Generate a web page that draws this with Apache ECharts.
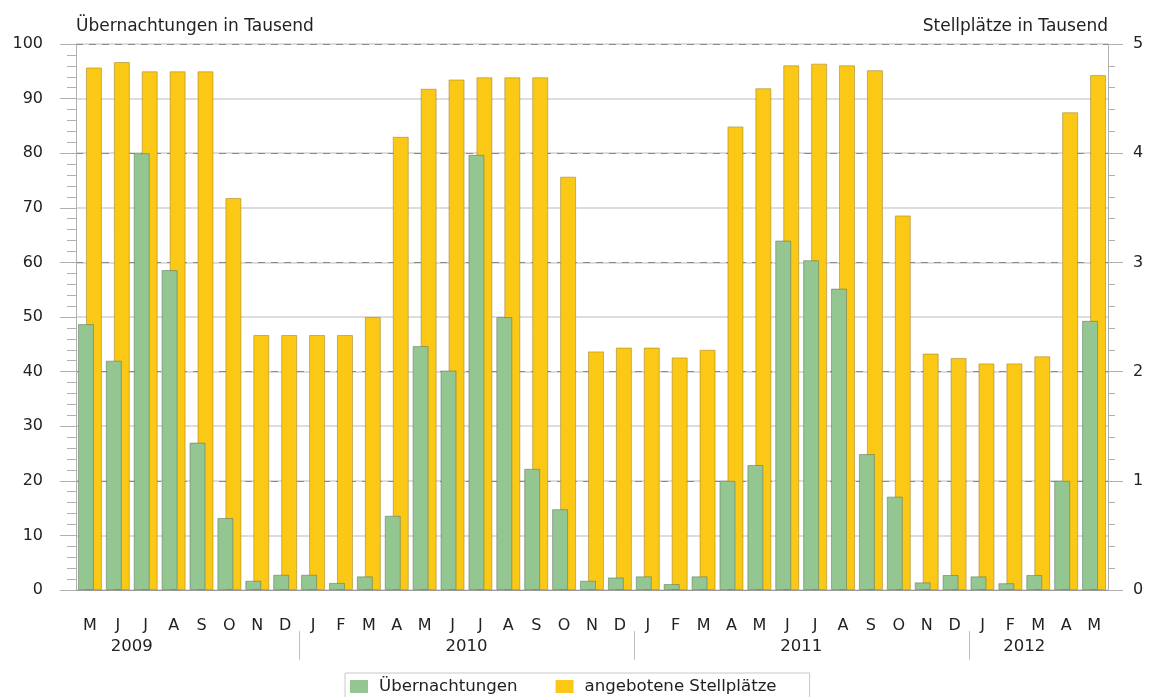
<!DOCTYPE html>
<html>
<head>
<meta charset="utf-8">
<script src="https://cdn.jsdelivr.net/npm/echarts@6/dist/echarts.min.js"></script>
<style>
html,body{margin:0;padding:0;background:#fff;}
#c{width:1153px;height:697px;}
</style>
</head>
<body>
<div id="c"></div>
<script>
const months = ['M','J','J','A','S','O','N','D',
  'J','F','M','A','M','J','J','A','S','O','N','D',
  'J','F','M','A','M','J','J','A','S','O','N','D',
  'J','F','M','A','M'];
const overnightStays = [48.7,42.0,80.0,58.6,27.0,13.2,1.7,2.8,
  2.8,1.3,2.5,13.6,44.7,40.2,79.7,50.0,22.2,14.8,1.7,2.3,
  2.5,1.1,2.5,20.0,22.9,64.0,60.4,55.2,24.9,17.1,1.4,2.75,
  2.5,1.25,2.75,20.0,49.3];
const pitches = [4.785,4.835,4.75,4.75,4.75,3.59,2.335,2.335,
  2.335,2.335,2.5,4.15,4.59,4.675,4.695,4.695,4.695,3.785,2.185,2.22,
  2.22,2.13,2.2,4.245,4.595,4.805,4.82,4.805,4.76,3.43,2.165,2.125,
  2.075,2.075,2.14,4.375,4.715];
const leftTicks = [0,10,20,30,40,50,60,70,80,90,100];
const rightTicks = [0,1,2,3,4,5];
const years = ['2009','2010','2011','2012'];
const yearLabelPos = [1.5, 13.5, 25.5, 33.5];
const yearBreaks = [7.5, 19.5, 31.5];
const seriesNames = ['Übernachtungen','angebotene Stellplätze'];
const titles = ['Übernachtungen in Tausend','Stellplätze in Tausend'];

const FONT = '"DejaVu Sans", Verdana, sans-serif';
const FS = 16;
const chart = echarts.init(document.getElementById('c'));
chart.setOption({
  animation:false,
  backgroundColor:'#fff',
  textStyle:{fontFamily:FONT},
  title:[
    {text:titles[0], left:71, top:13, textStyle:{fontSize:17, fontWeight:'normal', color:'#222', fontFamily:FONT}},
    {text:titles[1], right:40, top:13, textStyle:{fontSize:17, fontWeight:'normal', color:'#222', fontFamily:FONT}}
  ],
  grid:{left:76, right:45, top:44, bottom:107, containLabel:false},
  legend:{
    left:345, top:673, icon:'rect', itemWidth:18, itemHeight:13, itemGap:38,
    borderColor:'#c8c8c8', borderWidth:1, padding:[5,33,12,5],
    textStyle:{fontSize:16.6, color:'#222', fontFamily:FONT, padding:[0,0,0,6]},
    itemStyle:{borderWidth:0},
    data:seriesNames
  },
  xAxis:{
    type:'category', data:months, boundaryGap:true,
    axisLine:{lineStyle:{color:'#999', width:1}},
    axisTick:{alignWithLabel:true, length:15, lineStyle:{color:'#c0c0c0'}},
    axisLabel:{margin:28, fontSize:FS, color:'#222', lineHeight:16, interval:0, fontFamily:FONT},
    splitLine:{show:false}
  },
  yAxis:[
    {
      type:'value', min:leftTicks[0], max:leftTicks[leftTicks.length-1], interval:10, position:'left',
      axisLine:{show:true, lineStyle:{color:'#b0b0b0'}},
      axisTick:{show:true, length:16, lineStyle:{color:'#b0b0b0'}},
      minorTick:{show:true, splitNumber:5, length:9, lineStyle:{color:'#b0b0b0'}},
      axisLabel:{margin:33, fontSize:FS, color:'#222', fontFamily:FONT},
      splitLine:{show:true, lineStyle:{color:'#d2d2d2', width:1.5}}
    },
    {
      type:'value', min:rightTicks[0], max:rightTicks[rightTicks.length-1], interval:1, position:'right',
      axisLine:{show:true, lineStyle:{color:'#b0b0b0'}},
      axisTick:{show:true, length:15, lineStyle:{color:'#b0b0b0'}},
      minorTick:{show:true, splitNumber:5, length:7, lineStyle:{color:'#b0b0b0'}},
      axisLabel:{margin:25, fontSize:FS, color:'#222', fontFamily:FONT},
      splitLine:{show:true, lineStyle:{color:'#8a8a8a', width:1, type:[7,6]}}
    }
  ],
  series:[
    {
      name:seriesNames[0], type:'bar', yAxisIndex:0, data:overnightStays,
      barWidth:16, barGap:'-50%', z:3,
      itemStyle:{color:'#93c691', borderColor:'rgba(90,110,90,0.5)', borderWidth:1}
    },
    {
      name:seriesNames[1], type:'bar', yAxisIndex:1, data:pitches,
      barWidth:16, barGap:'-50%', z:2,
      itemStyle:{color:'#fbc915', borderColor:'rgba(150,120,40,0.5)', borderWidth:1}
    }
  ]
});

// year labels and separators placed through the category axis scale
function catX(pos){
  const a = Math.floor(pos), b = Math.ceil(pos);
  const xa = chart.convertToPixel({xAxisIndex:0}, a);
  const xb = chart.convertToPixel({xAxisIndex:0}, b);
  return xa + (xb - xa) * (pos - a);
}
const base = chart.convertToPixel({yAxisIndex:0}, 0);
const g = [];
years.forEach((y,i)=>{
  g.push({type:'text', x:catX(yearLabelPos[i]), y:base+57,
    style:{text:y, fontSize:16.5, fill:'#222', align:'center', verticalAlign:'middle', fontFamily:FONT}});
});
yearBreaks.forEach(p=>{
  const x = Math.round(catX(p)) + 0.5;
  g.push({type:'line', shape:{x1:x, y1:base+41, x2:x, y2:base+70},
    style:{stroke:'#c0c0c0', lineWidth:1}});
});
chart.setOption({graphic:g});
</script>
</body>
</html>
